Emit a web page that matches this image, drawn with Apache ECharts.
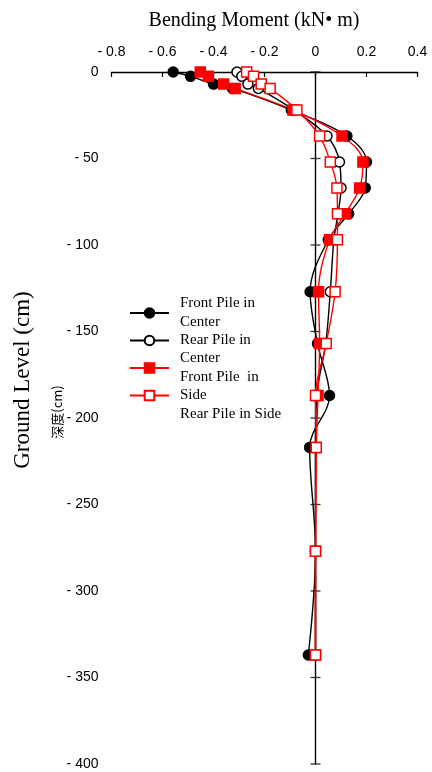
<!DOCTYPE html>
<html>
<head>
<meta charset="utf-8">
<script src="https://cdn.jsdelivr.net/npm/echarts@6/dist/echarts.min.js"></script>
<style>
  html, body { margin: 0; padding: 0; background: #ffffff; }
  #chart { width: 432px; height: 772px; }
</style>
</head>
<body>
<div id="chart"></div>
<script>
// Depth below ground level (cm) at each gauge
const depth = [0, -2.5, -7, -9.5, -22, -37, -52, -67, -82, -97, -127, -157, -187, -217, -277, -337];

// Bending moment (kN·m) per pile
const frontCenter = [-0.558, -0.49, -0.40, -0.325, -0.095, 0.123, 0.20, 0.195, 0.13, 0.05, -0.021, 0.008, 0.055, -0.023, 0.0, -0.028];
const rearCenter  = [-0.308, -0.289, -0.265, -0.224, -0.085, 0.045, 0.094, 0.10, 0.088, 0.072, 0.058, 0.04, 0.005, 0.0, 0.0, 0.0];
const frontSide   = [-0.452, -0.42, -0.36, -0.315, -0.088, 0.104, 0.186, 0.173, 0.116, 0.055, 0.012, 0.016, 0.01, 0.003, 0.0, 0.0];
const rearSide    = [-0.27, -0.243, -0.213, -0.178, -0.073, 0.016, 0.058, 0.084, 0.086, 0.086, 0.077, 0.042, 0.0, 0.003, 0.0, 0.0];

const seriesNames = ['Front Pile in Center', 'Rear Pile in Center', 'Front Pile  in Side', 'Rear Pile in Side'];
const legendLines = ['Front Pile in', 'Center', 'Rear Pile in', 'Center', 'Front Pile  in', 'Side', 'Rear Pile in Side'];

// Axis ticks
const xTicks = [-0.8, -0.6, -0.4, -0.2, 0, 0.2, 0.4];
const yTicks = [0, -50, -100, -150, -200, -250, -300, -350, -400];

const xTitle = 'Bending Moment (kN\u2022 m)';
const yTitle = 'Ground Level (cm)';
const ySubTitle = '深度(cm)';

const SANS = '"Liberation Sans", Arial, sans-serif';
const SERIF = '"Liberation Serif", "Times New Roman", serif';

function signed(v) {
  const s = String(Math.round(v * 10) / 10);
  return s.replace('-', '- ');
}

function pairs(xs) {
  return xs.map((x, i) => [x, depth[i]]);
}

function pile(name, values, color, filled, symbol) {
  return {
    name: name,
    type: 'line',
    data: pairs(values),
    smooth: 0.35,
    smoothMonotone: 'none',
    symbol: symbol,
    symbolSize: 10,
    showSymbol: true,
    lineStyle: { color: color, width: 1.4 },
    itemStyle: { color: filled ? color : '#ffffff', borderColor: color, borderWidth: 1.5 },
    emphasis: { disabled: true },
    z: 3
  };
}

const chart = echarts.init(document.getElementById('chart'), null, { renderer: 'canvas' });

chart.setOption({
  animation: false,
  backgroundColor: '#ffffff',
  grid: { left: 111.5, right: 14.5, top: 72, bottom: 8, containLabel: false },
  xAxis: {
    type: 'value',
    position: 'top',
    min: xTicks[0],
    max: xTicks[xTicks.length - 1],
    interval: 0.2,
    axisLine: { onZero: false, lineStyle: { color: '#000', width: 1.4 } },
    axisTick: { show: true, inside: true, length: 5, lineStyle: { color: '#000', width: 1.2 } },
    axisLabel: {
      margin: 13,
      color: '#000',
      fontFamily: SANS,
      fontSize: 14,
      formatter: v => signed(v)
    },
    splitLine: { show: false }
  },
  yAxis: [
    {
      type: 'value',
      position: 'left',
      min: yTicks[yTicks.length - 1],
      max: yTicks[0],
      interval: 50,
      axisLine: { show: false, onZero: false },
      axisTick: { show: false },
      axisLabel: {
        margin: 13,
        color: '#000',
        fontFamily: SANS,
        fontSize: 14,
        formatter: v => signed(v)
      },
      splitLine: { show: false }
    },
    {
      type: 'value',
      position: 'right',
      min: yTicks[yTicks.length - 1],
      max: yTicks[0],
      interval: 50,
      axisLine: { show: true, onZero: true, lineStyle: { color: '#000', width: 1.4 } },
      axisTick: { show: false },
      axisLabel: { show: false },
      splitLine: { show: false }
    }
  ],
  legend: {
    orient: 'vertical',
    left: 129,
    top: 307,
    padding: 0,
    itemWidth: 39,
    itemHeight: 12,
    itemGap: 15.7,
    selectedMode: false,
    data: seriesNames,
    formatter: () => '',
    textStyle: { fontSize: 8 }
  },
  graphic: [
    {
      type: 'text',
      x: 254, y: 21,
      style: { text: xTitle, font: '20px ' + SERIF, fill: '#000', align: 'center', verticalAlign: 'middle' }
    },
    {
      type: 'text',
      x: 23, y: 380, rotation: Math.PI / 2,
      style: { text: yTitle, font: '23px ' + SERIF, fill: '#000', align: 'center', verticalAlign: 'middle' }
    },
    {
      type: 'text',
      x: 57, y: 412, rotation: Math.PI / 2,
      style: { text: ySubTitle, font: '13px "Noto Sans CJK SC", sans-serif', fill: '#000', align: 'center', verticalAlign: 'middle' }
    },
    {
      type: 'text',
      x: 180, y: 294,
      style: { text: legendLines.join('\n'), font: '15px ' + SERIF, lineHeight: 18.4, fill: '#000', align: 'left', verticalAlign: 'top' }
    }
  ],
  series: [
    // cross ticks on the zero line
    {
      name: 'depthTicks',
      type: 'scatter',
      data: yTicks.map(v => [0, v]),
      symbol: 'rect',
      symbolSize: [10, 1.3],
      itemStyle: { color: '#000' },
      silent: true,
      z: 2
    },
    pile(seriesNames[0], frontCenter, '#000000', true, 'circle'),
    pile(seriesNames[1], rearCenter, '#000000', false, 'circle'),
    pile(seriesNames[2], frontSide, '#ff0000', true, 'rect'),
    pile(seriesNames[3], rearSide, '#ff0000', false, 'rect')
  ]
});
</script>
</body>
</html>
